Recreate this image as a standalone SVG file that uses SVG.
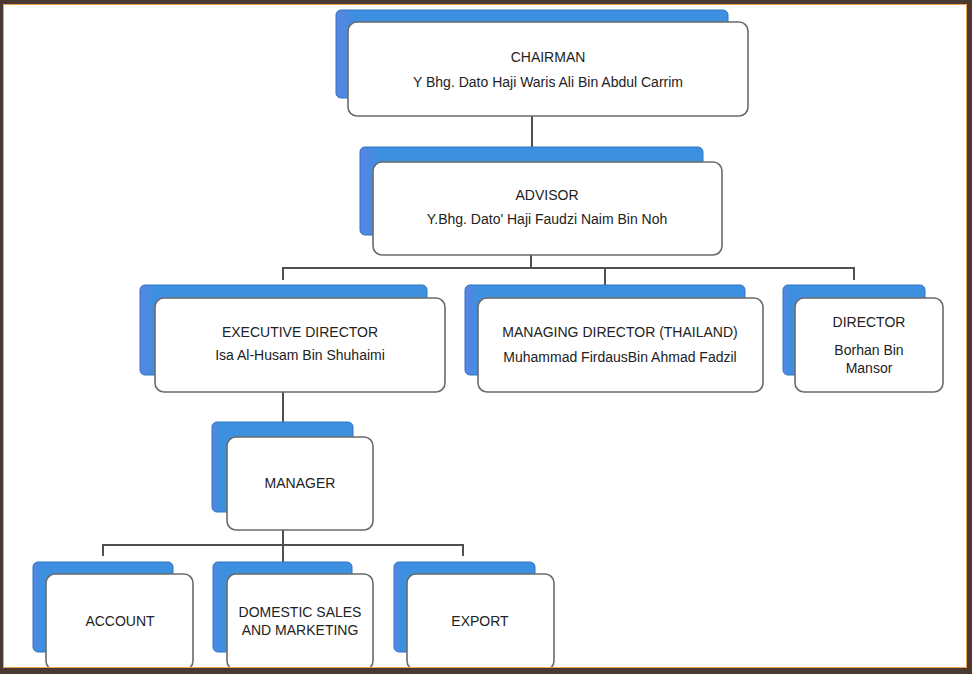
<svg xmlns="http://www.w3.org/2000/svg" width="972" height="674" viewBox="0 0 972 674">
<defs>
<linearGradient id="bg" x1="0" y1="0" x2="1" y2="0">
<stop offset="0" stop-color="#5a84e4"/>
<stop offset="0.05" stop-color="#3d90e0"/>
<stop offset="1" stop-color="#3d90e0"/>
</linearGradient>
</defs>
<style>
.back{fill:url(#bg);stroke:#2f74c0;stroke-width:1}
.front{fill:#ffffff;stroke:#6a6a6a;stroke-width:1.6}
.t{font-family:"Liberation Sans",Arial,sans-serif;font-size:14px;fill:#222;text-anchor:middle}
.c{fill:none;stroke:#505050;stroke-width:2}
</style>
<rect x="0" y="0" width="972" height="674" fill="#ffffff"/>

<g id="connectors">
<path class="c" d="M532 116V148"/>
<path class="c" d="M531 254V268M283 280V268H854V280M605 268V285"/>
<path class="c" d="M283 392V422"/>
<path class="c" d="M283 530V545M103 556V545H463V556M283 545V562"/>
</g>

<g id="chairman">
<rect class="back" x="336" y="10" width="392" height="88" rx="5"/>
<rect class="front" x="348" y="22" width="400" height="94" rx="9"/>
<text class="t" x="548" y="62">CHAIRMAN</text>
<text class="t" x="548" y="87">Y Bhg. Dato  Haji Waris Ali Bin Abdul Carrim</text>
</g>

<g id="advisor">
<rect class="back" x="360" y="147" width="343" height="88" rx="5"/>
<rect class="front" x="373" y="162" width="349" height="93" rx="9"/>
<text class="t" x="547" y="200">ADVISOR</text>
<text class="t" x="547" y="224">Y.Bhg. Dato' Haji Faudzi Naim Bin Noh</text>
</g>

<g id="executive-director">
<rect class="back" x="140" y="285" width="287" height="90" rx="5"/>
<rect class="front" x="155" y="298" width="290" height="94" rx="9"/>
<text class="t" x="300" y="337">EXECUTIVE DIRECTOR</text>
<text class="t" x="300" y="360">Isa Al-Husam Bin Shuhaimi</text>
</g>

<g id="managing-director">
<rect class="back" x="465" y="285" width="280" height="90" rx="5"/>
<rect class="front" x="478" y="298" width="285" height="94" rx="9"/>
<text class="t" x="620" y="337">MANAGING DIRECTOR (THAILAND)</text>
<text class="t" x="620" y="362">Muhammad FirdausBin Ahmad Fadzil</text>
</g>

<g id="director">
<rect class="back" x="783" y="285" width="142" height="90" rx="5"/>
<rect class="front" x="795" y="298" width="148" height="94" rx="9"/>
<text class="t" x="869" y="327">DIRECTOR</text>
<text class="t" x="869" y="355">Borhan Bin</text>
<text class="t" x="869" y="373">Mansor</text>
</g>

<g id="manager">
<rect class="back" x="212" y="422" width="141" height="90" rx="5"/>
<rect class="front" x="227" y="437" width="146" height="93" rx="9"/>
<text class="t" x="300" y="488">MANAGER</text>
</g>

<g id="account">
<rect class="back" x="33" y="562" width="140" height="90" rx="5"/>
<rect class="front" x="46" y="574" width="147" height="96" rx="9"/>
<text class="t" x="120" y="626">ACCOUNT</text>
</g>

<g id="domestic-sales">
<rect class="back" x="213" y="562" width="139" height="90" rx="5"/>
<rect class="front" x="227" y="574" width="146" height="96" rx="9"/>
<text class="t" x="300" y="617">DOMESTIC SALES</text>
<text class="t" x="300" y="635">AND MARKETING</text>
</g>

<g id="export">
<rect class="back" x="394" y="562" width="141" height="90" rx="5"/>
<rect class="front" x="407" y="574" width="147" height="96" rx="9"/>
<text class="t" x="480" y="626">EXPORT</text>
</g>

<g id="frame">
<path d="M0 0H972V674H0Z M3 4V668H967V4Z" fill="#4a3832" fill-rule="evenodd"/>
<rect x="3.5" y="4.5" width="963" height="663" fill="none" stroke="#f2a54e" stroke-width="1"/>
</g>
</svg>
